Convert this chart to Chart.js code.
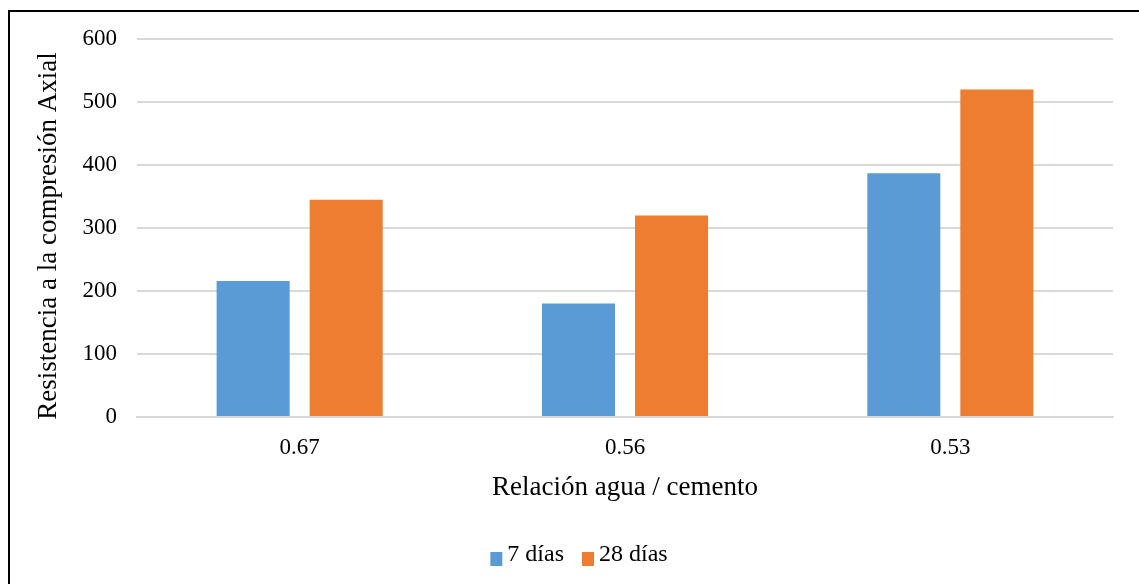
<!DOCTYPE html>
<html>
<head>
<meta charset="utf-8">
<script src="https://cdn.jsdelivr.net/npm/chart.js@4"></script>
<style>
  html, body { margin: 0; padding: 0; background: #ffffff; }
  #wrap { position: relative; width: 1139px; height: 584px; }
  canvas { display: block; }
</style>
</head>
<body>
<div id="wrap"><canvas id="chart" width="1139" height="584"></canvas></div>
<script>
// Relación agua / cemento y resistencia a la compresión axial
const categories = ['0.67', '0.56', '0.53'];
const seriesNames = ['7 días', '28 días'];
const dias7 = [216, 180, 387];
const dias28 = [345, 320, 520];
const yTicks = [0, 100, 200, 300, 400, 500, 600];
const xTitle = 'Relación agua / cemento';
const yTitle = 'Resistencia a la compresión Axial';

const FONT = '"Liberation Serif", "Times New Roman", serif';

// Outer frame: top and left rules of the chart box
const framePlugin = {
  id: 'frame',
  afterDraw(chart) {
    const ctx = chart.ctx;
    ctx.save();
    ctx.strokeStyle = '#000000';
    ctx.lineWidth = 2;
    ctx.beginPath();
    ctx.moveTo(9, 600);
    ctx.lineTo(9, 11);
    ctx.lineTo(1139, 11);
    ctx.stroke();
    ctx.restore();
  }
};

// Vertical axis title, sitting slightly below the plot's vertical middle
const yTitlePlugin = {
  id: 'yTitle',
  afterDraw(chart) {
    const ctx = chart.ctx;
    const area = chart.chartArea;
    ctx.save();
    ctx.translate(48.6, (area.top + area.bottom) / 2 + 8);
    ctx.rotate(-Math.PI / 2);
    ctx.font = '27px ' + FONT;
    ctx.fillStyle = '#000000';
    ctx.textAlign = 'center';
    ctx.textBaseline = 'middle';
    ctx.fillText(yTitle, 0, 0);
    ctx.restore();
  }
};

// Legend row under the axis title: square swatch, small gap, series name
const legendRowPlugin = {
  id: 'legendRow',
  afterDraw(chart) {
    const ctx = chart.ctx;
    const centerX = 579;
    const baseline = 561;
    const box = { w: 12, h: 14, gap: 5, itemGap: 18 };
    ctx.save();
    ctx.font = '24px ' + FONT;
    ctx.textBaseline = 'alphabetic';
    const items = chart.data.datasets.map(ds => ({
      text: ds.label,
      color: ds.backgroundColor,
      width: ctx.measureText(ds.label).width
    }));
    let total = 0;
    items.forEach((it, i) => {
      total += box.w + box.gap + it.width + (i < items.length - 1 ? box.itemGap : 0);
    });
    let x = centerX - total / 2;
    items.forEach(it => {
      ctx.fillStyle = it.color;
      ctx.fillRect(x, baseline - 9, box.w, box.h);
      x += box.w + box.gap;
      ctx.fillStyle = '#000000';
      ctx.fillText(it.text, x, baseline);
      x += it.width + box.itemGap;
    });
    ctx.restore();
  }
};

new Chart(document.getElementById('chart'), {
  type: 'bar',
  data: {
    labels: categories,
    datasets: [
      { label: seriesNames[0], data: dias7, backgroundColor: '#5B9BD5', borderWidth: 0 },
      { label: seriesNames[1], data: dias28, backgroundColor: '#ED7D31', borderWidth: 0 }
    ]
  },
  options: {
    responsive: false,
    animation: false,
    devicePixelRatio: 1,
    categoryPercentage: 0.572,
    barPercentage: 0.785,
    layout: { padding: { top: 39, right: 26, bottom: 0, left: 0 } },
    plugins: {
      tooltip: { enabled: false },
      legend: { display: false }
    },
    scales: {
      x: {
        grid: { display: false, drawTicks: false },
        border: { display: true, color: '#d9d9d9', width: 2 },
        ticks: { font: { family: FONT, size: 23 }, color: '#000000', padding: 17 },
        title: {
          display: true,
          text: xTitle,
          font: { family: FONT, size: 27 },
          color: '#000000',
          padding: { top: 0, bottom: 80 }
        },
        afterFit(scale) { scale.height = 167; }
      },
      y: {
        min: 0,
        max: 600,
        afterBuildTicks(scale) { scale.ticks = yTicks.map(v => ({ value: v })); },
        grid: { color: '#d9d9d9', lineWidth: 2, drawTicks: false },
        border: { display: false },
        ticks: { font: { family: FONT, size: 23 }, color: '#000000', padding: 20 },
        title: { display: false },
        afterFit(scale) { scale.width = 137; }
      }
    }
  },
  plugins: [framePlugin, yTitlePlugin, legendRowPlugin]
});
</script>
</body>
</html>
